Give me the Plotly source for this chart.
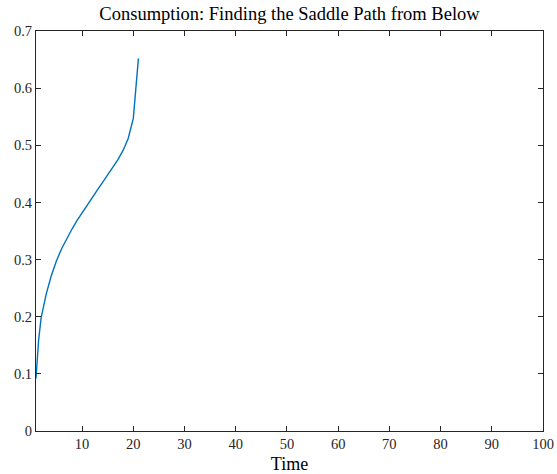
import plotly.graph_objects as go

time = [1, 1.5, 2, 2.5, 3, 4, 5, 6, 7, 8, 9, 10, 11, 12, 13, 14, 15, 16, 17, 18, 19, 20, 21]
consumption = [0.092, 0.158, 0.198, 0.222, 0.240, 0.272, 0.298, 0.319, 0.337, 0.353, 0.368, 0.382,
               0.396, 0.409, 0.422, 0.435, 0.448, 0.461, 0.475, 0.491, 0.512, 0.547, 0.652]
x_ticks = [10, 20, 30, 40, 50, 60, 70, 80, 90, 100]
y_ticks = [0, 0.1, 0.2, 0.3, 0.4, 0.5, 0.6, 0.7]
y_labels = ["0", "0.1", "0.2", "0.3", "0.4", "0.5", "0.6", "0.7"]

axis_color = "#262626"
font_family = "Liberation Serif, DejaVu Serif, serif"

fig = go.Figure()
fig.add_trace(go.Scatter(x=time, y=consumption, mode="lines",
                         line=dict(color="#0072BD", width=1.4),
                         showlegend=False))

fig.update_layout(
    width=557, height=474,
    margin=dict(l=36, r=14, t=31, b=43, autoexpand=False),
    paper_bgcolor="white", plot_bgcolor="white",
    title=dict(text="Consumption: Finding the Saddle Path from Below",
               x=(36 + 543) / 2 / 557, xanchor="center", y=1 - 14 / 474, yanchor="middle",
               font=dict(family=font_family, size=18.5, color="#000000")),
    font=dict(family=font_family, size=14.5, color=axis_color),
)
fig.update_xaxes(range=[1, 100], tickvals=x_ticks, ticktext=[str(v) for v in x_ticks],
                 ticks="inside", ticklen=5, tickcolor=axis_color, showline=True,
                 linecolor=axis_color, linewidth=1, mirror="ticks", showgrid=False,
                 automargin=False,
                 zeroline=False, title=dict(text="Time", font=dict(size=18, color="#000000"), standoff=7),
                 tickfont=dict(size=14.5))
fig.update_yaxes(range=[0, 0.7], tickvals=y_ticks, ticktext=y_labels,
                 ticks="inside", ticklen=5, tickcolor=axis_color, showline=True,
                 linecolor=axis_color, linewidth=1, mirror="ticks", showgrid=False,
                 automargin=False,
                 zeroline=False, tickfont=dict(size=14.5))

fig.write_html("out.html", config={"displayModeBar": False},
               post_script="document.body.style.margin='0';document.body.style.padding='0';")
